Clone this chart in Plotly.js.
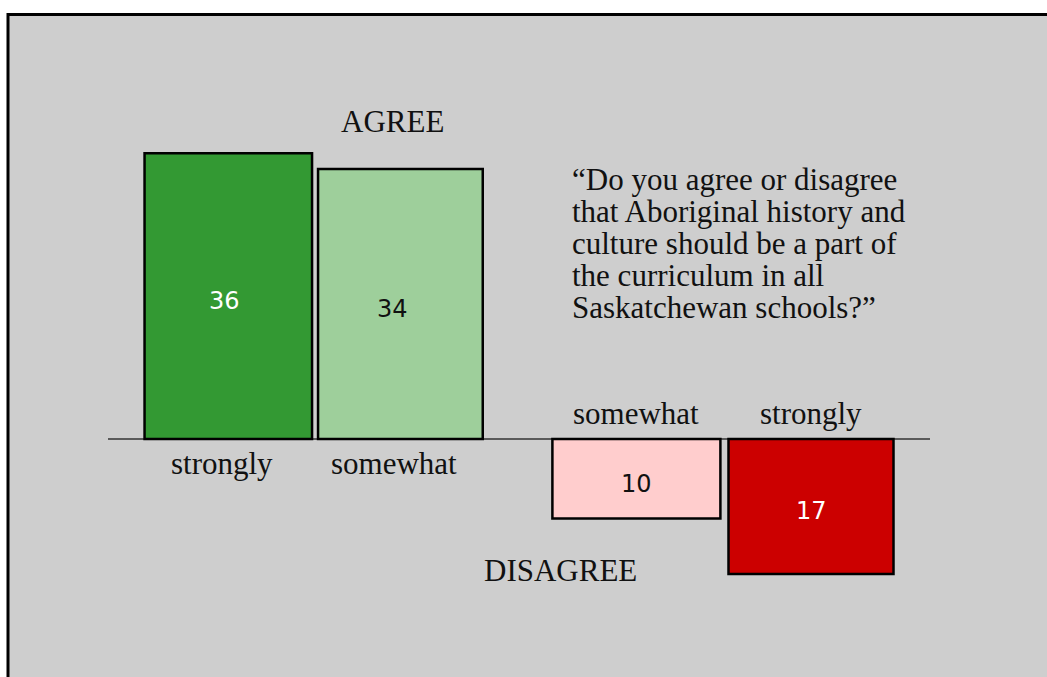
<!DOCTYPE html>
<html>
<head>
<meta charset="utf-8">
<script src="https://cdn.plot.ly/plotly-3.0.1.min.js"></script>
<style>html,body{margin:0;padding:0;background:#fff;}#chart{width:1047px;height:677px;}</style>
</head>
<body>
<div id="chart"></div>
<script>
// ---- data ----
const groups = ['AGREE', 'AGREE', 'DISAGREE', 'DISAGREE'];
const levels = ['strongly', 'somewhat', 'somewhat', 'strongly'];
const values = [36, 34, -10, -17];
const labels = ['36', '34', '10', '17'];
const questionLines = [
  '\u201CDo you agree or disagree',
  'that Aboriginal history and',
  'culture should be a part of',
  'the curriculum in all',
  'Saskatchewan schools?\u201D'
];

// ---- layout / style ----
const W = 1047, H = 677;
const barX = [228.3, 400.4, 636.4, 811];
const barW = [167.5, 164.7, 168, 165];
const barColors = ['#339933', '#9ecf9b', '#ffcdcd', '#cc0000'];
const textColors = ['#ffffff', '#111111', '#111111', '#ffffff'];
const textDx = [-4, -8, 0, 0];
const pxPerUnit = 7.94, zeroPx = 439;
const serif = 'Liberation Serif, Times New Roman, serif';

const trace = {
  type: 'bar',
  x: barX,
  y: values,
  width: barW,
  marker: {color: barColors, line: {color: '#000', width: 2.5}},
  hoverinfo: 'skip'
};

const annotations = [];
const px = v => v / W;
const py = v => 1 - v / H;
// value labels inside bars
labels.forEach((t, i) => {
  annotations.push({
    xref: 'x', yref: 'y', x: barX[i] + textDx[i], y: values[i] / 2, yshift: -5,
    text: t, showarrow: false, xanchor: 'center', yanchor: 'middle',
    font: {family: 'DejaVu Sans, sans-serif', size: 24, color: textColors[i]}
  });
});
// level labels
levels.forEach((lv, i) => {
  const below = values[i] > 0;
  annotations.push({
    xref: 'x', yref: 'paper', x: barX[i] - (below ? 6 : 0),
    y: py(below ? 463 : 413), yanchor: 'middle', xanchor: 'center',
    text: lv, showarrow: false,
    font: {family: serif, size: 31, color: '#111'}
  });
});
// group labels
annotations.push({xref: 'paper', yref: 'paper', x: px(392.5), y: py(121), text: groups[0],
  showarrow: false, xanchor: 'center', yanchor: 'middle', font: {family: serif, size: 31, color: '#111'}});
annotations.push({xref: 'paper', yref: 'paper', x: px(560), y: py(570), text: groups[2],
  showarrow: false, xanchor: 'center', yanchor: 'middle', font: {family: serif, size: 31, color: '#111'}});
// question
questionLines.forEach((ln, i) => {
  annotations.push({xref: 'paper', yref: 'paper', x: px(570), y: py(179 + i * 32.2), text: ln,
    showarrow: false, xanchor: 'left', yanchor: 'middle', font: {family: serif, size: 31, color: '#111'}});
});

const layout = {
  width: W, height: H,
  margin: {l: 0, r: 0, t: 0, b: 0, pad: 0},
  paper_bgcolor: '#ffffff',
  plot_bgcolor: 'rgba(0,0,0,0)',
  showlegend: false,
  xaxis: {range: [0, W], visible: false, fixedrange: true},
  yaxis: {range: [-(H - zeroPx) / pxPerUnit, zeroPx / pxPerUnit], autorange: false, visible: false, fixedrange: true},
  shapes: [
    {type: 'rect', xref: 'paper', yref: 'paper', x0: px(8), x1: 1.05, y0: -0.05, y1: py(14.5),
     fillcolor: '#cecece', line: {color: '#000', width: 3}, layer: 'below'},
    {type: 'line', xref: 'x', yref: 'y', x0: 108, x1: 930, y0: 0, y1: 0,
     line: {color: '#333', width: 1.3}, layer: 'below'}
  ],
  annotations: annotations
};

Plotly.newPlot('chart', [trace], layout, {displayModeBar: false, staticPlot: true});
</script>
</body>
</html>
